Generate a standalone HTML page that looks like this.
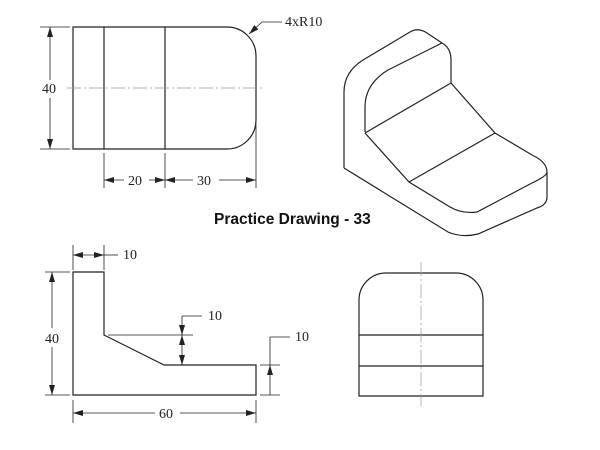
<!DOCTYPE html>
<html><head><style>
body{margin:0;background:#fff;}
svg{display:block}
text{font-family:"Liberation Serif",serif;font-size:14px;fill:#222}
</style></head><body>
<svg width="600" height="450" viewBox="0 0 600 450" xmlns="http://www.w3.org/2000/svg">
<defs>
<marker id="a" viewBox="0 0 10 6" refX="10" refY="3" markerWidth="10" markerHeight="6" orient="auto-start-reverse" markerUnits="userSpaceOnUse"><path d="M0,0 L10,3 L0,6z" fill="#222"/></marker>
</defs>
<g fill="none" stroke="#222" stroke-width="1.2">
<path d="M73,27 H227 A29,29 0 0 1 256,56 V120 A29,29 0 0 1 227,149 H73 Z"/>
<line x1="104" y1="27" x2="104" y2="149"/>
<line x1="165" y1="27" x2="165" y2="149"/>
<line x1="67" y1="88" x2="262" y2="88" stroke="#999" stroke-width="0.7" stroke-dasharray="14,3,2,3"/>
<line x1="40" y1="27" x2="70" y2="27" stroke-width="0.8"/>
<line x1="40" y1="149" x2="70" y2="149" stroke-width="0.8"/>
<line x1="50" y1="27" x2="50" y2="80" stroke-width="0.8" marker-start="url(#a)"/>
<line x1="50" y1="98" x2="50" y2="149" stroke-width="0.8" marker-end="url(#a)"/>
<line x1="104" y1="153" x2="104" y2="188" stroke-width="0.8"/>
<line x1="165" y1="153" x2="165" y2="188" stroke-width="0.8"/>
<line x1="256" y1="125" x2="256" y2="188" stroke-width="0.8"/>
<line x1="104" y1="180" x2="124" y2="180" stroke-width="0.8" marker-start="url(#a)"/>
<line x1="149" y1="180" x2="165" y2="180" stroke-width="0.8" marker-end="url(#a)"/>
<line x1="165" y1="180" x2="193" y2="180" stroke-width="0.8" marker-start="url(#a)"/>
<line x1="219" y1="180" x2="256" y2="180" stroke-width="0.8" marker-end="url(#a)"/>
<path d="M282,22 H262 L249,34" stroke-width="0.8" marker-end="url(#a)"/>
<path d="M344,168 V92 Q344,72 363,60 L410,32 Q418,27 427,33 L442,43"/>
<path d="M442,43 L388,70 Q365,84 365,107 V132"/>
<path d="M442,43 Q451,48 451,60 V83"/>
<path d="M365,133 L451,83 L495,133 L532,155 Q547,162 547,172"/>
<path d="M365,133 L409,182 L450,207 Q462,214 477,212 L532,183 Q547,176 547,172"/>
<path d="M409,182 L495,133"/>
<path d="M547,172 V197 Q547,205 537,208 L478,234 Q462,238 448,232 L344,168"/>
<path d="M73,272 H104 V335 L164,365 H256 V395 H73 Z"/>
<line x1="73" y1="245" x2="73" y2="270" stroke-width="0.8"/>
<line x1="104" y1="245" x2="104" y2="270" stroke-width="0.8"/>
<line x1="73" y1="255" x2="104" y2="255" stroke-width="0.8" marker-start="url(#a)" marker-end="url(#a)"/>
<line x1="104" y1="255" x2="118" y2="255" stroke-width="0.8"/>
<line x1="45" y1="272" x2="70" y2="272" stroke-width="0.8"/>
<line x1="45" y1="395" x2="70" y2="395" stroke-width="0.8"/>
<line x1="52" y1="272" x2="52" y2="328" stroke-width="0.8" marker-start="url(#a)"/>
<line x1="52" y1="347" x2="52" y2="395" stroke-width="0.8" marker-end="url(#a)"/>
<line x1="108" y1="335" x2="193" y2="335" stroke-width="0.8"/>
<line x1="182" y1="316" x2="182" y2="335" stroke-width="0.8" marker-end="url(#a)"/>
<line x1="182" y1="335" x2="182" y2="365" stroke-width="0.8" marker-start="url(#a)" marker-end="url(#a)"/>
<line x1="182" y1="316" x2="202" y2="316" stroke-width="0.8"/>
<line x1="260" y1="365" x2="280" y2="365" stroke-width="0.8"/>
<line x1="260" y1="395" x2="280" y2="395" stroke-width="0.8"/>
<line x1="270" y1="337" x2="270" y2="365" stroke-width="0.8"/>
<line x1="270" y1="365" x2="270" y2="395" stroke-width="0.8" marker-start="url(#a)"/>
<line x1="270" y1="337" x2="290" y2="337" stroke-width="0.8"/>
<line x1="73" y1="400" x2="73" y2="423" stroke-width="0.8"/>
<line x1="256" y1="400" x2="256" y2="423" stroke-width="0.8"/>
<line x1="73" y1="413" x2="155" y2="413" stroke-width="0.8" marker-start="url(#a)"/>
<line x1="180" y1="413" x2="256" y2="413" stroke-width="0.8" marker-end="url(#a)"/>
<path d="M359,396 V300 A27,27 0 0 1 386,273 H456 A27,27 0 0 1 483,300 V396 Z"/>
<line x1="359" y1="335" x2="483" y2="335"/>
<line x1="359" y1="366" x2="483" y2="366"/>
<line x1="421" y1="262" x2="421" y2="406" stroke="#999" stroke-width="0.7" stroke-dasharray="14,3,2,3"/>
</g>
<text x="285" y="26">4xR10</text>
<text x="42" y="93">40</text>
<text x="128" y="185">20</text>
<text x="197" y="185">30</text>
<text x="123" y="259">10</text>
<text x="45" y="343">40</text>
<text x="208" y="320">10</text>
<text x="295" y="341">10</text>
<text x="159" y="418">60</text>
<text x="214" y="224" style="font-family:'Liberation Sans',sans-serif;font-weight:bold;font-size:15.5px;fill:#111">Practice Drawing - 33</text>
</svg>
</body></html>
